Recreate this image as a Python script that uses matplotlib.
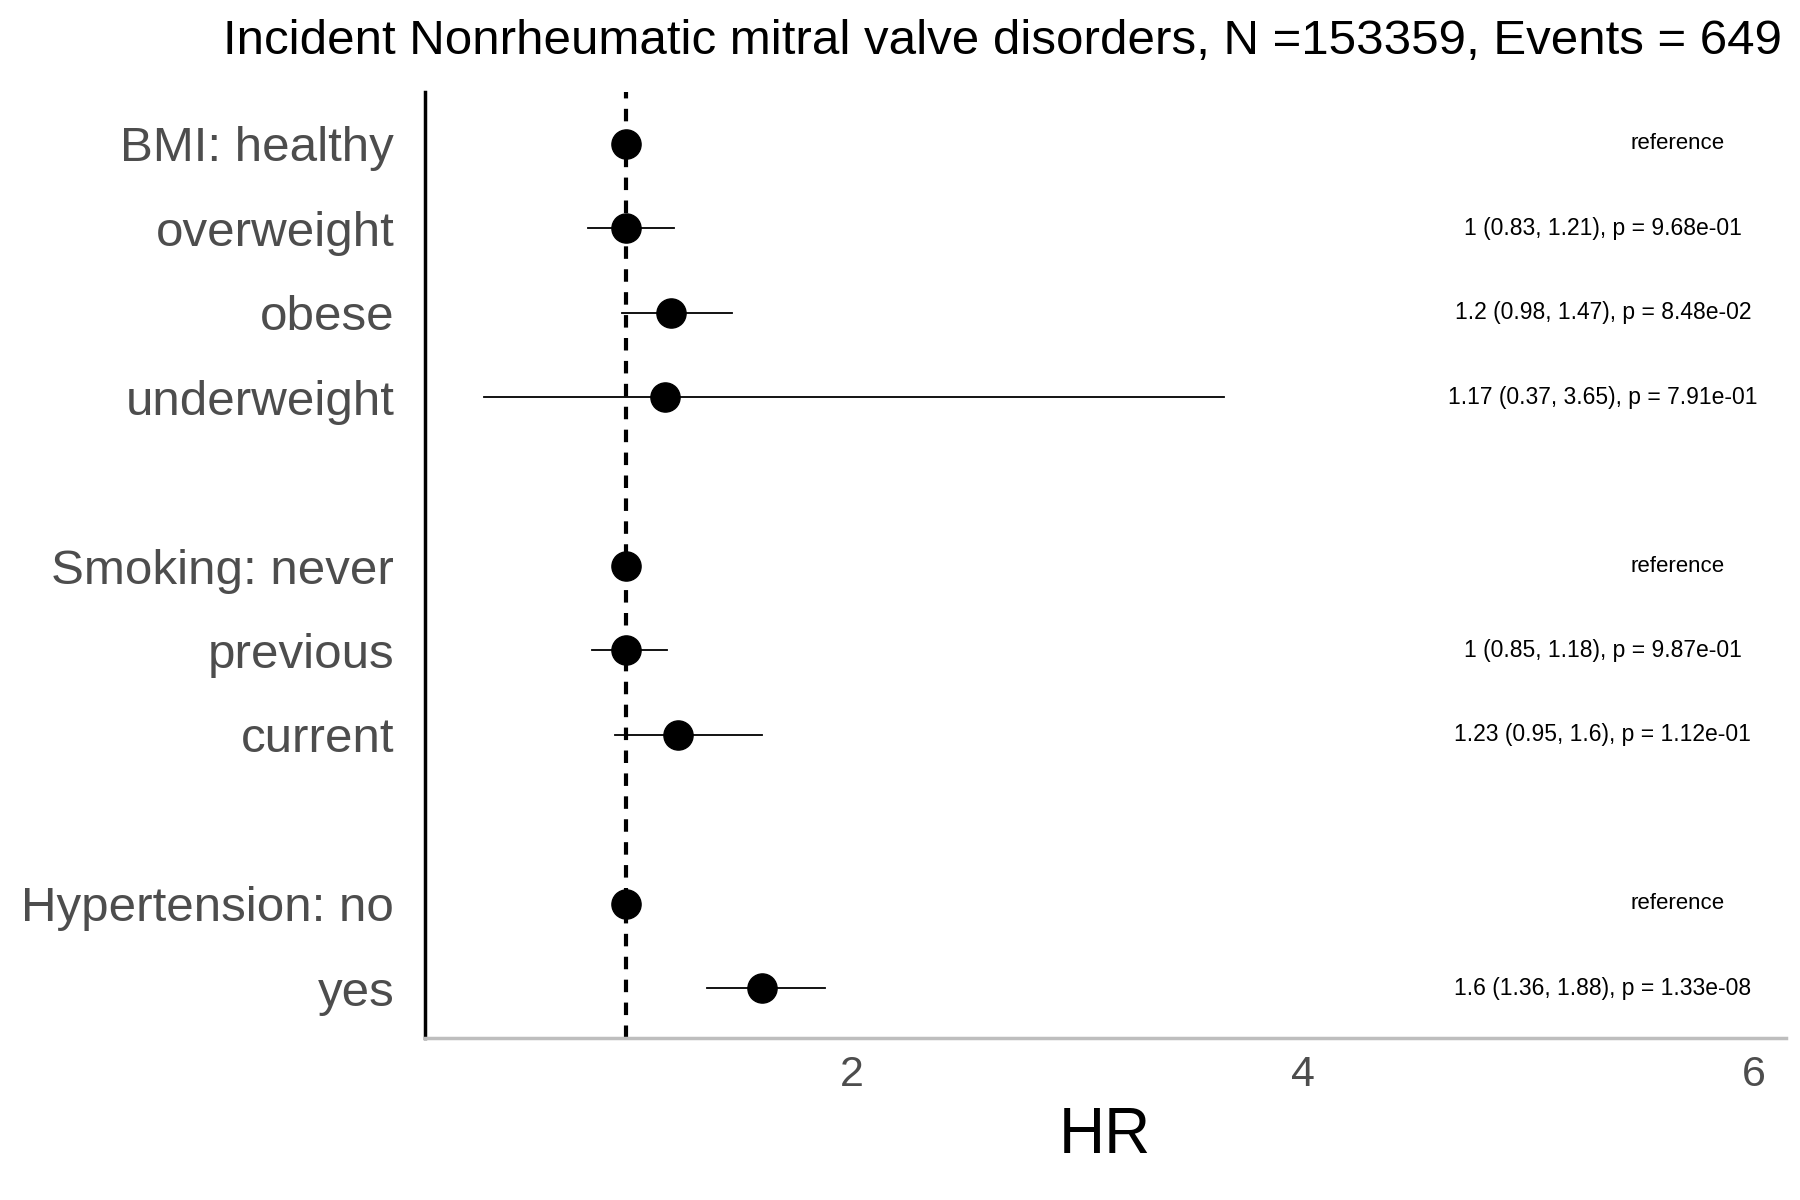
import matplotlib
matplotlib.use("Agg")
import matplotlib.pyplot as plt

# Data
labels = ["BMI: healthy", "overweight", "obese", "underweight",
          "Smoking: never", "previous", "current",
          "Hypertension: no", "yes"]
rows = [0, 1, 2, 3, 5, 6, 7, 9, 10]
hr = [1, 1, 1.2, 1.17, 1, 1, 1.23, 1, 1.6]
lo = [None, 0.83, 0.98, 0.37, None, 0.85, 0.95, None, 1.36]
hi = [None, 1.21, 1.47, 3.65, None, 1.18, 1.6, None, 1.88]
notes = ["reference", "1 (0.83, 1.21), p = 9.68e-01", "1.2 (0.98, 1.47), p = 8.48e-02",
         "1.17 (0.37, 3.65), p = 7.91e-01", "reference", "1 (0.85, 1.18), p = 9.87e-01",
         "1.23 (0.95, 1.6), p = 1.12e-01", "reference", "1.6 (1.36, 1.88), p = 1.33e-08"]
xticks = [2, 4, 6]

plt.rcParams["font.family"] = "Liberation Sans"
fig = plt.figure(figsize=(18, 12), dpi=100)
ax = fig.add_axes([0.236, 0.135, 0.756, 0.788])

ax.axvline(1, color="black", ls=(0, (3, 2.5)), lw=3, zorder=1)
for r, h, l, u, n in zip(rows, hr, lo, hi, notes):
    if l is not None:
        ax.plot([l, u], [r, r], color="black", lw=1.3, zorder=2)
    ax.plot(h, r, "o", color="black", ms=21, zorder=3)
    if n == "reference":
        ax.text(5.66, r, n, ha="center", va="center", fontsize=16)
    else:
        ax.text(5.33, r, n, ha="center", va="center", fontsize=16.5)

ax.set_xlim(0.107, 6.14)
ax.set_ylim(10.59, -0.61)
ax.set_yticks(rows)
ax.set_yticklabels(labels, fontsize=35.5, color="#4d4d4d")
ax.set_xticks(xticks)
ax.set_xticklabels([str(t) for t in xticks], fontsize=31, color="#4d4d4d")
ax.tick_params(length=0, pad=12)
ax.tick_params(axis="y", pad=22)
ax.set_xlabel("HR", fontsize=46, labelpad=8)
for s in ["top", "right"]:
    ax.spines[s].set_visible(False)
ax.spines["left"].set_linewidth(2.5)
ax.spines["bottom"].set_color("#bebebe")
ax.spines["bottom"].set_linewidth(2.5)
fig.text(0.99, 0.965, "Incident Nonrheumatic mitral valve disorders, N =153359, Events = 649",
         ha="right", va="center", fontsize=35.5)

fig.savefig("out.png")
